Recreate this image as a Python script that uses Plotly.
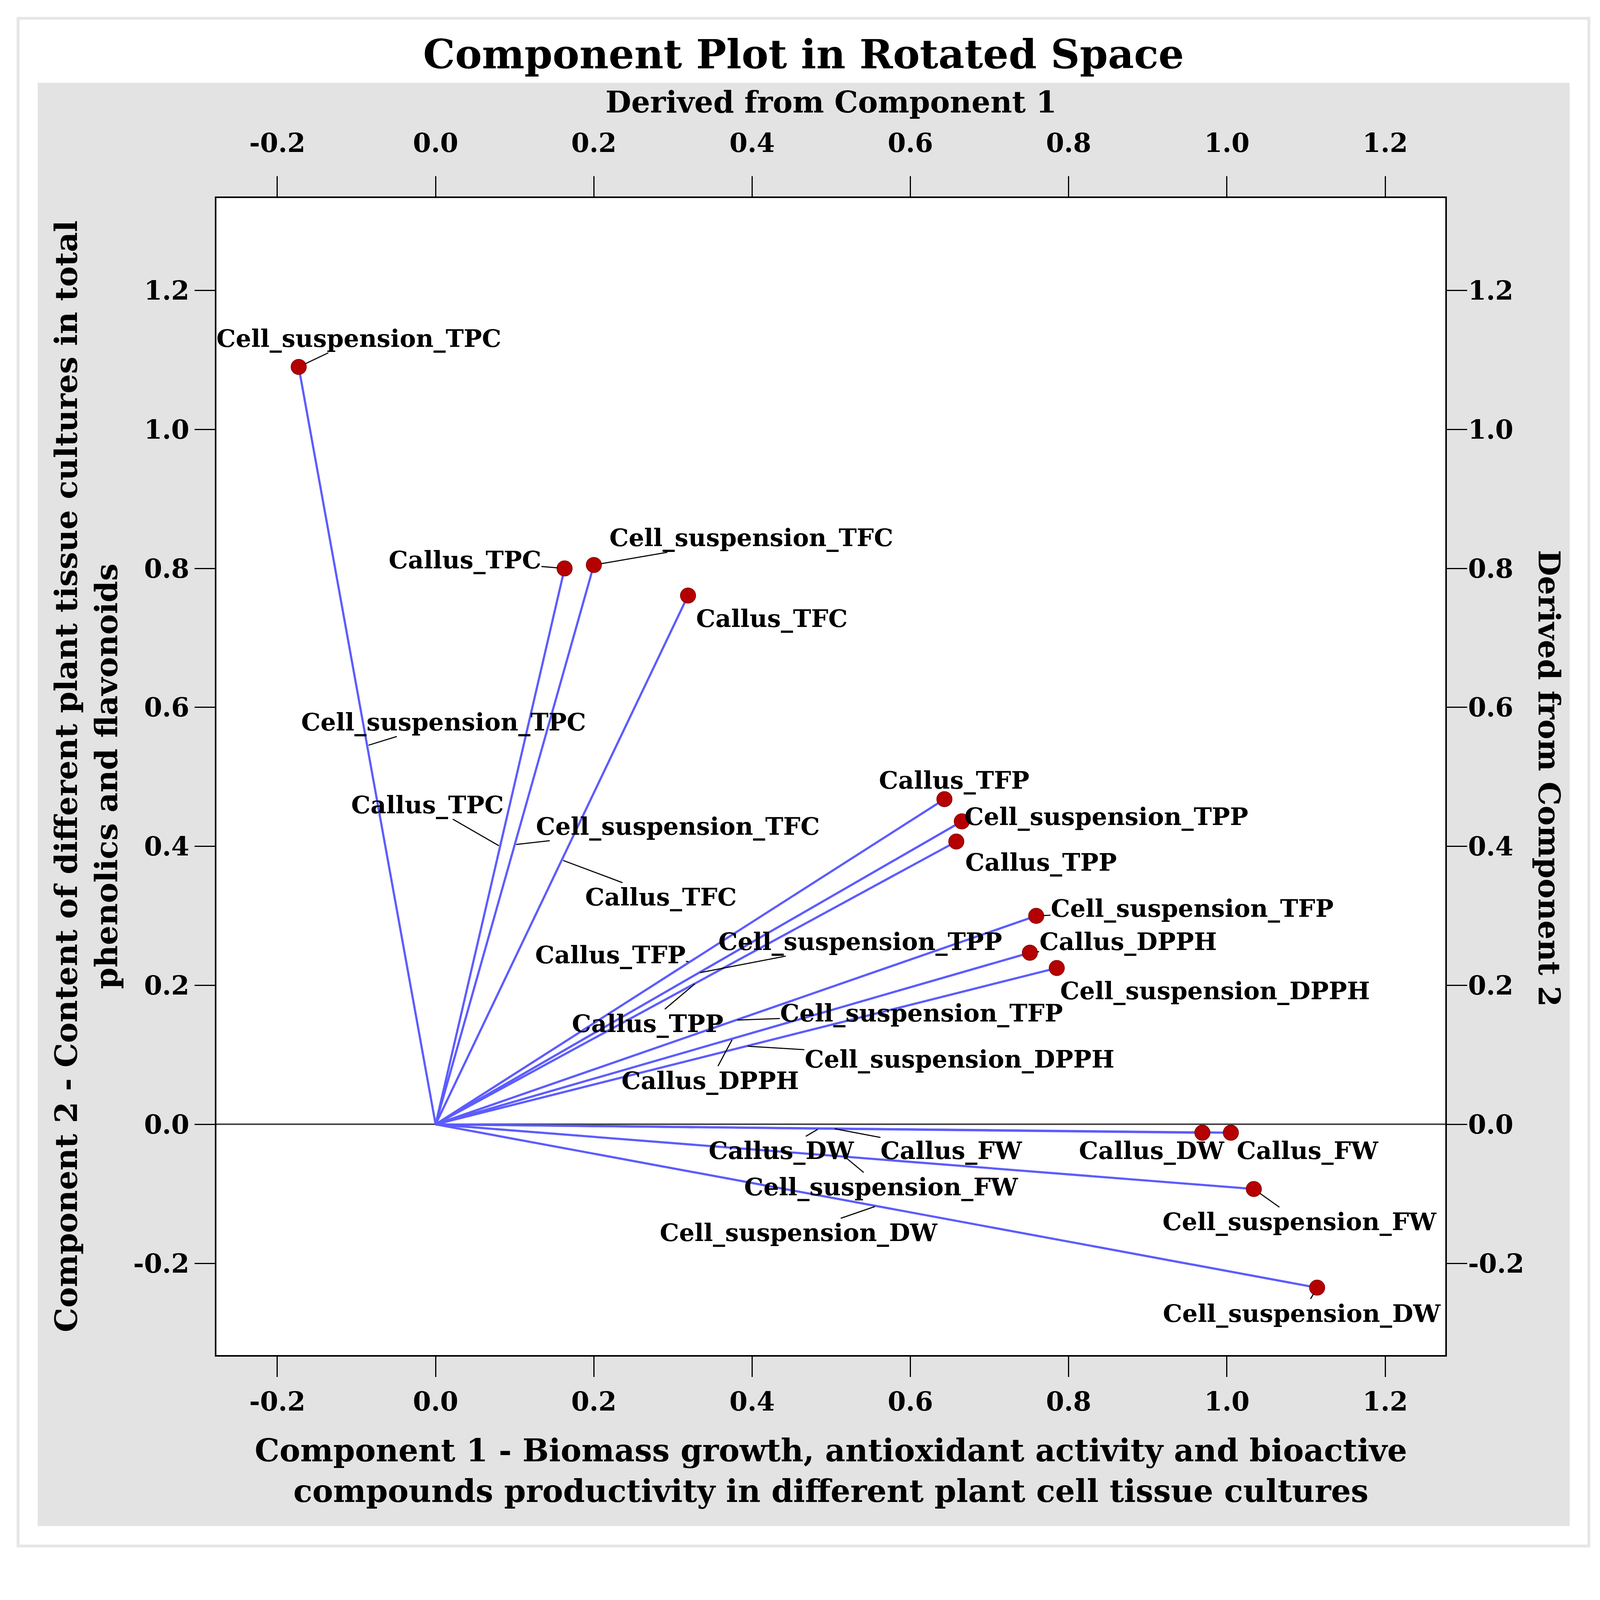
import plotly.graph_objects as go

# component loadings (rotated space)
variables = ["Cell_suspension_TPC", "Callus_TPC", "Cell_suspension_TFC", "Callus_TFC",
             "Callus_TFP", "Cell_suspension_TPP", "Callus_TPP", "Cell_suspension_TFP",
             "Callus_DPPH", "Cell_suspension_DPPH", "Callus_DW", "Callus_FW",
             "Cell_suspension_FW", "Cell_suspension_DW"]
comp1 = [-0.173, 0.163, 0.200, 0.319, 0.643, 0.665, 0.658, 0.759,
         0.751, 0.785, 0.969, 1.005, 1.034, 1.114]
comp2 = [1.090, 0.800, 0.805, 0.761, 0.468, 0.436, 0.407, 0.300,
         0.247, 0.225, -0.012, -0.012, -0.093, -0.235]

tick_vals_x = [-0.2, 0.0, 0.2, 0.4, 0.6, 0.8, 1.0, 1.2]
tick_text_x = ["-0.2", "0.0", "0.2", "0.4", "0.6", "0.8", "1.0", "1.2"]
tick_vals_y = [-0.2, 0.0, 0.2, 0.4, 0.6, 0.8, 1.0, 1.2]
tick_text_y = ["-0.2", "0.0", "0.2", "0.4", "0.6", "0.8", "1.0", "1.2"]

# label placement (layout only)
end_lab_x = [-0.097, 0.037, 0.399, 0.425, 0.655, 0.848, 0.765, 0.956, 0.875, 0.985, 0.905, 1.102, 1.092, 1.095]
end_lab_y = [1.131, 0.812, 0.844, 0.728, 0.495, 0.443, 0.377, 0.311, 0.263, 0.192, -0.038, -0.038, -0.140, -0.272]
end_leader = [True, True, True, False, False, False, False, True, True, False, False, False, True, True]
mid_lab_x = [0.010, -0.010, 0.306, 0.285, 0.221, 0.537, 0.268, 0.614, 0.347, 0.662, 0.437, 0.652, 0.563, 0.459]
mid_lab_y = [0.579, 0.460, 0.429, 0.327, 0.244, 0.263, 0.145, 0.160, 0.063, 0.094, -0.038, -0.038, -0.090, -0.156]

FONT = "DejaVu Serif"
# reference canvas is 4415 x 4301; the browser viewport is 4096 wide, so scale down
RW, RH = 4415, 4301
S = 4096 / RW
W, H = 4096, round(RH * S)
L, R, T, B = 589, 436, 538, 570  # reference-pixel margins
PW, PH = RW - L - R, RH - T - B


def px(v):
    return v * S


def paper_x(xp):
    return (xp - L) / PW


def paper_y(yp):
    return (RH - B - yp) / PH


fig = go.Figure()

for name, x, y in zip(variables, comp1, comp2):
    fig.add_trace(go.Scatter(x=[0, x], y=[0, y], mode="lines",
                             line=dict(color="#5c5cff", width=px(6)), showlegend=False, hoverinfo="skip"))

fig.add_trace(go.Scatter(x=comp1, y=comp2, mode="markers", text=variables,
                         marker=dict(color="#b40000", size=px(42), line=dict(color="#8a0000", width=px(2))),
                         showlegend=False))

# dummy trace for the mirrored top/right axes
fig.add_trace(go.Scatter(x=[0], y=[0], xaxis="x2", yaxis="y2", mode="markers",
                         marker=dict(opacity=0), showlegend=False, hoverinfo="skip"))

lab_font = dict(family=FONT, size=px(67), color="black")
for i, name in enumerate(variables):
    fig.add_annotation(x=comp1[i], y=comp2[i], ax=end_lab_x[i], ay=end_lab_y[i],
                       xref="x", yref="y", axref="x", ayref="y",
                       text="<b>%s</b>" % name, font=lab_font, showarrow=True,
                       arrowhead=0, arrowwidth=px(3),
                       arrowcolor="black" if end_leader[i] else "rgba(0,0,0,0)",
                       standoff=px(20), borderpad=0)
    fig.add_annotation(x=comp1[i] / 2, y=comp2[i] / 2, ax=mid_lab_x[i], ay=mid_lab_y[i],
                       xref="x", yref="y", axref="x", ayref="y",
                       text="<b>%s</b>" % name, font=lab_font, showarrow=True,
                       arrowhead=0, arrowwidth=px(3), arrowcolor="black", standoff=px(4),
                       borderpad=0)

xr = [-0.277, 1.276]
yr = [-0.332, 1.333]
tick_font = dict(family=FONT, size=px(72), color="black", weight="bold")
axis_common = dict(showgrid=False, showline=True, linecolor="black", linewidth=px(4),
                   ticks="outside", ticklen=px(56), tickwidth=px(3), tickcolor="black",
                   tickfont=tick_font)

fig.update_layout(
    width=W, height=H,
    margin=dict(l=px(L), r=px(R), t=px(T), b=px(B), autoexpand=False),
    paper_bgcolor="white", plot_bgcolor="white",
    xaxis=dict(range=xr, tickvals=tick_vals_x, ticktext=tick_text_x, zeroline=False,
               ticklabelstandoff=round(px(6)), **axis_common),
    yaxis=dict(range=yr, tickvals=tick_vals_y, ticktext=tick_text_y, zeroline=True,
               zerolinecolor="#444444", zerolinewidth=px(4), ticklabelstandoff=0, **axis_common),
    xaxis2=dict(range=xr, tickvals=tick_vals_x, ticktext=tick_text_x, overlaying="x",
                side="top", zeroline=False, ticklabelstandoff=round(px(38)), **axis_common),
    yaxis2=dict(range=yr, tickvals=tick_vals_y, ticktext=tick_text_y, overlaying="y",
                side="right", zeroline=False, ticklabelstandoff=-round(px(12)), **axis_common),
)

# grey panel, white plot area and outer frame
fig.add_shape(type="rect", xref="paper", yref="paper", layer="below",
              x0=paper_x(96), x1=paper_x(4322), y0=paper_y(4203), y1=paper_y(220),
              fillcolor="#e3e3e3", line=dict(width=0))
fig.add_shape(type="rect", xref="paper", yref="paper", layer="below",
              x0=0, x1=1, y0=0, y1=1, fillcolor="white", line=dict(width=0))
fig.add_shape(type="rect", xref="paper", yref="paper", layer="below",
              x0=paper_x(42), x1=paper_x(4375), y0=paper_y(4258), y1=paper_y(42),
              fillcolor="rgba(0,0,0,0)", line=dict(color="#e6e6e6", width=px(8)))

ann = dict(xref="paper", yref="paper", showarrow=False, xanchor="center", yanchor="middle")
fig.add_annotation(text="<b>Component Plot in Rotated Space</b>", x=paper_x(2209), y=paper_y(141),
                   font=dict(family=FONT, size=px(111), color="black"), **ann)
fig.add_annotation(text="<b>Derived from Component 1</b>", x=0.5, y=paper_y(273),
                   font=dict(family=FONT, size=px(82), color="black"), **ann)
fig.add_annotation(text="<b>Component 1 - Biomass growth, antioxidant activity and bioactive<br>"
                        "compounds productivity in different plant cell tissue cultures</b>",
                   x=0.5, y=paper_y(4050),
                   font=dict(family=FONT, size=px(86), color="black"), **ann)
fig.add_annotation(text="<b>Component 2 - Content of different plant tissue cultures in total<br>"
                        "phenolics and flavonoids</b>",
                   x=paper_x(230), y=paper_y(2134), textangle=-90,
                   font=dict(family=FONT, size=px(85), color="black"), **ann)
fig.add_annotation(text="<b>Derived from Component 2</b>", x=paper_x(4266), y=paper_y(2140),
                   textangle=90, font=dict(family=FONT, size=px(83), color="black"), **ann)

fig.write_html("out.html")
